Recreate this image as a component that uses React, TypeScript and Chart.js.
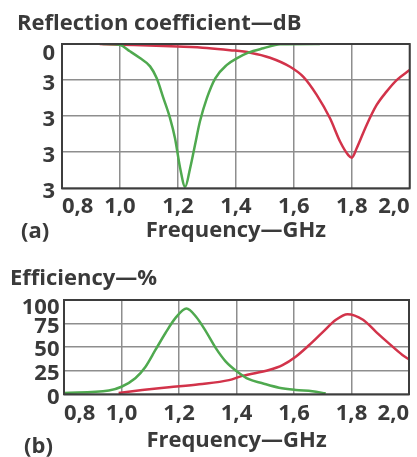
import React, { useEffect, useRef } from 'react';
import { Chart, registerables } from 'chart.js';

Chart.register(...registerables);

// ---- axis ticks ----
const xTickValues = [0.8, 1.0, 1.2, 1.4, 1.6, 1.8, 2.0];
const xTickLabels = ['0,8', '1,0', '1,2', '1,4', '1,6', '1,8', '2,0'];

const reflTickValues = [0, -10, -20, -30, -40];
const reflTickLabels = ['0', '3', '3', '3', '3'];

const effTickValues = [0, 25, 50, 75, 100];
const effTickLabels = ['0', '25', '50', '75', '100'];

// ---- (a) reflection coefficient, dB ----
const reflGreenFreq = [0.94, 1.0, 1.034, 1.069, 1.104, 1.127, 1.15, 1.173, 1.19, 1.208, 1.225, 1.242, 1.259, 1.276, 1.3, 1.329, 1.369, 1.403, 1.443, 1.495, 1.553, 1.69];
const reflGreenDb = [0, -0.3, -2.0, -3.9, -6.2, -9.5, -15, -20.6, -26.1, -34.5, -39.6, -34.5, -28, -21.5, -15, -9.5, -5.8, -4.0, -2.4, -1.2, -0.1, 0];

const reflRedFreq = [0.93, 1.0, 1.1, 1.2, 1.3, 1.38, 1.45, 1.518, 1.587, 1.633, 1.679, 1.725, 1.76, 1.788, 1.8, 1.817, 1.851, 1.886, 1.92, 1.955, 2.0];
const reflRedDb = [0, -0.2, -0.4, -0.7, -1.1, -1.7, -2.4, -3.8, -6.3, -9.1, -14.1, -20.6, -27.1, -30.8, -31.5, -28.9, -22.5, -16.9, -13.2, -10, -7.2];

// ---- (b) efficiency, % ----
const effGreenFreq = [0.8, 0.956, 1.0, 1.048, 1.083, 1.118, 1.153, 1.188, 1.226, 1.26, 1.293, 1.328, 1.362, 1.403, 1.443, 1.49, 1.548, 1.606, 1.664, 1.71];
const effGreenPct = [1.5, 4, 8, 17, 29, 47, 65, 81, 91, 82, 67, 49, 35, 24, 16, 11.7, 7, 4.6, 3.2, 1];

const effRedFreq = [0.99, 1.072, 1.165, 1.27, 1.374, 1.42, 1.513, 1.56, 1.606, 1.652, 1.7, 1.746, 1.786, 1.84, 1.886, 1.93, 1.977, 2.0];
const effRedPct = [1.5, 4.5, 7.4, 10.6, 15, 19.5, 25.8, 31, 39.9, 52, 66, 79, 85, 79, 66, 54, 41.7, 37];

const FONT = "'Open Sans', 'DejaVu Sans', sans-serif";
const TEXT = '#3a3a3a';
const GREEN = '#4fa94f';
const RED = '#d2334a';
const GRID = '#8e8e8e';
const FRAME = '#3d3d3d';

const toPoints = (xs: number[], ys: number[]) => xs.map((x, i) => ({ x, y: ys[i] }));

const framePlugin = {
  id: 'frame',
  afterDatasetsDraw(chart: any) {
    const { ctx, chartArea: a } = chart;
    ctx.save();
    ctx.strokeStyle = FRAME;
    ctx.lineWidth = 2;
    ctx.strokeRect(a.left, a.top, a.right - a.left, a.bottom - a.top);
    ctx.restore();
  },
};

const panelLabelPlugin = {
  id: 'panelLabel',
  afterDraw(chart: any, _args: any, opts: any) {
    const { ctx } = chart;
    ctx.save();
    ctx.font = `bold 22px ${FONT}`;
    ctx.fillStyle = TEXT;
    ctx.textBaseline = 'middle';
    ctx.textAlign = 'left';
    ctx.fillText(opts.text, opts.x, opts.y);
    ctx.restore();
  },
};

interface PanelOpts {
  title: string;
  titlePad: { top: number; bottom: number };
  padLeft: number;
  yAxisWidth: number;
  yMin: number;
  yMax: number;
  yTicks: number[];
  yLabels: string[];
  yPad: number;
  yLabelOffset: number;
  topLabelLH: string;
  xPad: number;
  xTitlePad: { top: number; bottom: number };
  panel: { text: string; x: number; y: number };
  series: { freq: number[]; vals: number[]; color: string }[];
}

function makeConfig(o: PanelOpts): any {
  const font = (lh: any) => ({ family: FONT, size: 22, weight: 'bold', lineHeight: lh });
  return {
    type: 'line',
    data: {
      datasets: o.series.map((s) => ({
        data: toPoints(s.freq, s.vals),
        borderColor: s.color,
        borderWidth: 2.5,
        pointRadius: 0,
        fill: false,
        cubicInterpolationMode: 'monotone',
      })),
    },
    plugins: [framePlugin, panelLabelPlugin],
    options: {
      responsive: false,
      animation: false,
      devicePixelRatio: 1,
      layout: { padding: { left: o.padLeft, right: 5, top: 0, bottom: 0 } },
      plugins: {
        legend: { display: false },
        tooltip: { enabled: false },
        title: {
          display: true,
          text: o.title,
          align: 'start',
          color: TEXT,
          font: font(1.2),
          padding: o.titlePad,
        },
        panelLabel: o.panel,
      },
      scales: {
        x: {
          type: 'linear',
          min: xTickValues[0],
          max: xTickValues[xTickValues.length - 1],
          afterBuildTicks: (scale: any) => {
            scale.ticks = xTickValues.map((v) => ({ value: v }));
          },
          ticks: {
            callback: (v: number) => xTickLabels[xTickValues.findIndex((t) => Math.abs(t - v) < 1e-6)],
            align: 'inner',
            autoSkip: false,
            maxRotation: 0,
            color: TEXT,
            padding: o.xPad,
            font: font(1),
          },
          grid: { color: GRID, lineWidth: 1.5, drawTicks: false },
          border: { display: false },
          title: {
            display: true,
            text: 'Frequency—GHz',
            color: TEXT,
            font: font('10px'),
            padding: o.xTitlePad,
          },
        },
        y: {
          type: 'linear',
          min: o.yMin,
          max: o.yMax,
          afterBuildTicks: (scale: any) => {
            scale.ticks = o.yTicks.map((v) => ({ value: v }));
          },
          afterFit: (scale: any) => {
            scale.width = o.yAxisWidth;
          },
          ticks: {
            callback: (v: number) => {
              const label = o.yLabels[o.yTicks.indexOf(v)];
              return v === o.yMax ? ['', label] : label;
            },
            color: TEXT,
            padding: o.yPad,
            labelOffset: o.yLabelOffset,
            font: font(o.topLabelLH),
          },
          grid: { color: GRID, lineWidth: 1.5, drawTicks: false },
          border: { display: false },
        },
      },
    },
  };
}

function Panel({ top, height, opts }: { top: number; height: number; opts: PanelOpts }) {
  const ref = useRef<HTMLCanvasElement>(null);
  useEffect(() => {
    const chart = new Chart(ref.current as HTMLCanvasElement, makeConfig(opts));
    return () => chart.destroy();
  }, []);
  return (
    <canvas
      ref={ref}
      width={417}
      height={height}
      style={{ position: 'absolute', left: 0, top, width: 417, height }}
    />
  );
}

const panelA: PanelOpts = {
  title: 'Reflection coefficient—dB',
  titlePad: { top: 10.7, bottom: 6.9 },
  padLeft: 17,
  yAxisWidth: 45,
  yMin: -40,
  yMax: 0,
  yTicks: reflTickValues,
  yLabels: reflTickLabels,
  yPad: 7,
  yLabelOffset: 3.5,
  topLabelLH: '13px',
  xPad: 7.3,
  xTitlePad: { top: 0.7, bottom: 8.4 },
  panel: { text: '(a)', x: 21, y: 231.5 },
  series: [
    { freq: reflGreenFreq, vals: reflGreenDb, color: GREEN },
    { freq: reflRedFreq, vals: reflRedDb, color: RED },
  ],
};

const panelB: PanelOpts = {
  title: 'Efficiency—%',
  titlePad: { top: 15.2, bottom: 8.4 },
  padLeft: 10,
  yAxisWidth: 54,
  yMin: 0,
  yMax: 100,
  yTicks: effTickValues,
  yLabels: effTickLabels,
  yPad: 4.5,
  yLabelOffset: 3,
  topLabelLH: '9px',
  xPad: 8,
  xTitlePad: { top: 3.3, bottom: 11.4 },
  panel: { text: '(b)', x: 24, y: 197 },
  series: [
    { freq: effGreenFreq, vals: effGreenPct, color: GREEN },
    { freq: effRedFreq, vals: effRedPct, color: RED },
  ],
};

export default function App() {
  return (
    <div style={{ position: 'absolute', left: 0, top: 0, width: 417, height: 457, background: '#fff', overflow: 'hidden' }}>
      <Panel top={0} height={244} opts={panelA} />
      <Panel top={250} height={207} opts={panelB} />
    </div>
  );
}
